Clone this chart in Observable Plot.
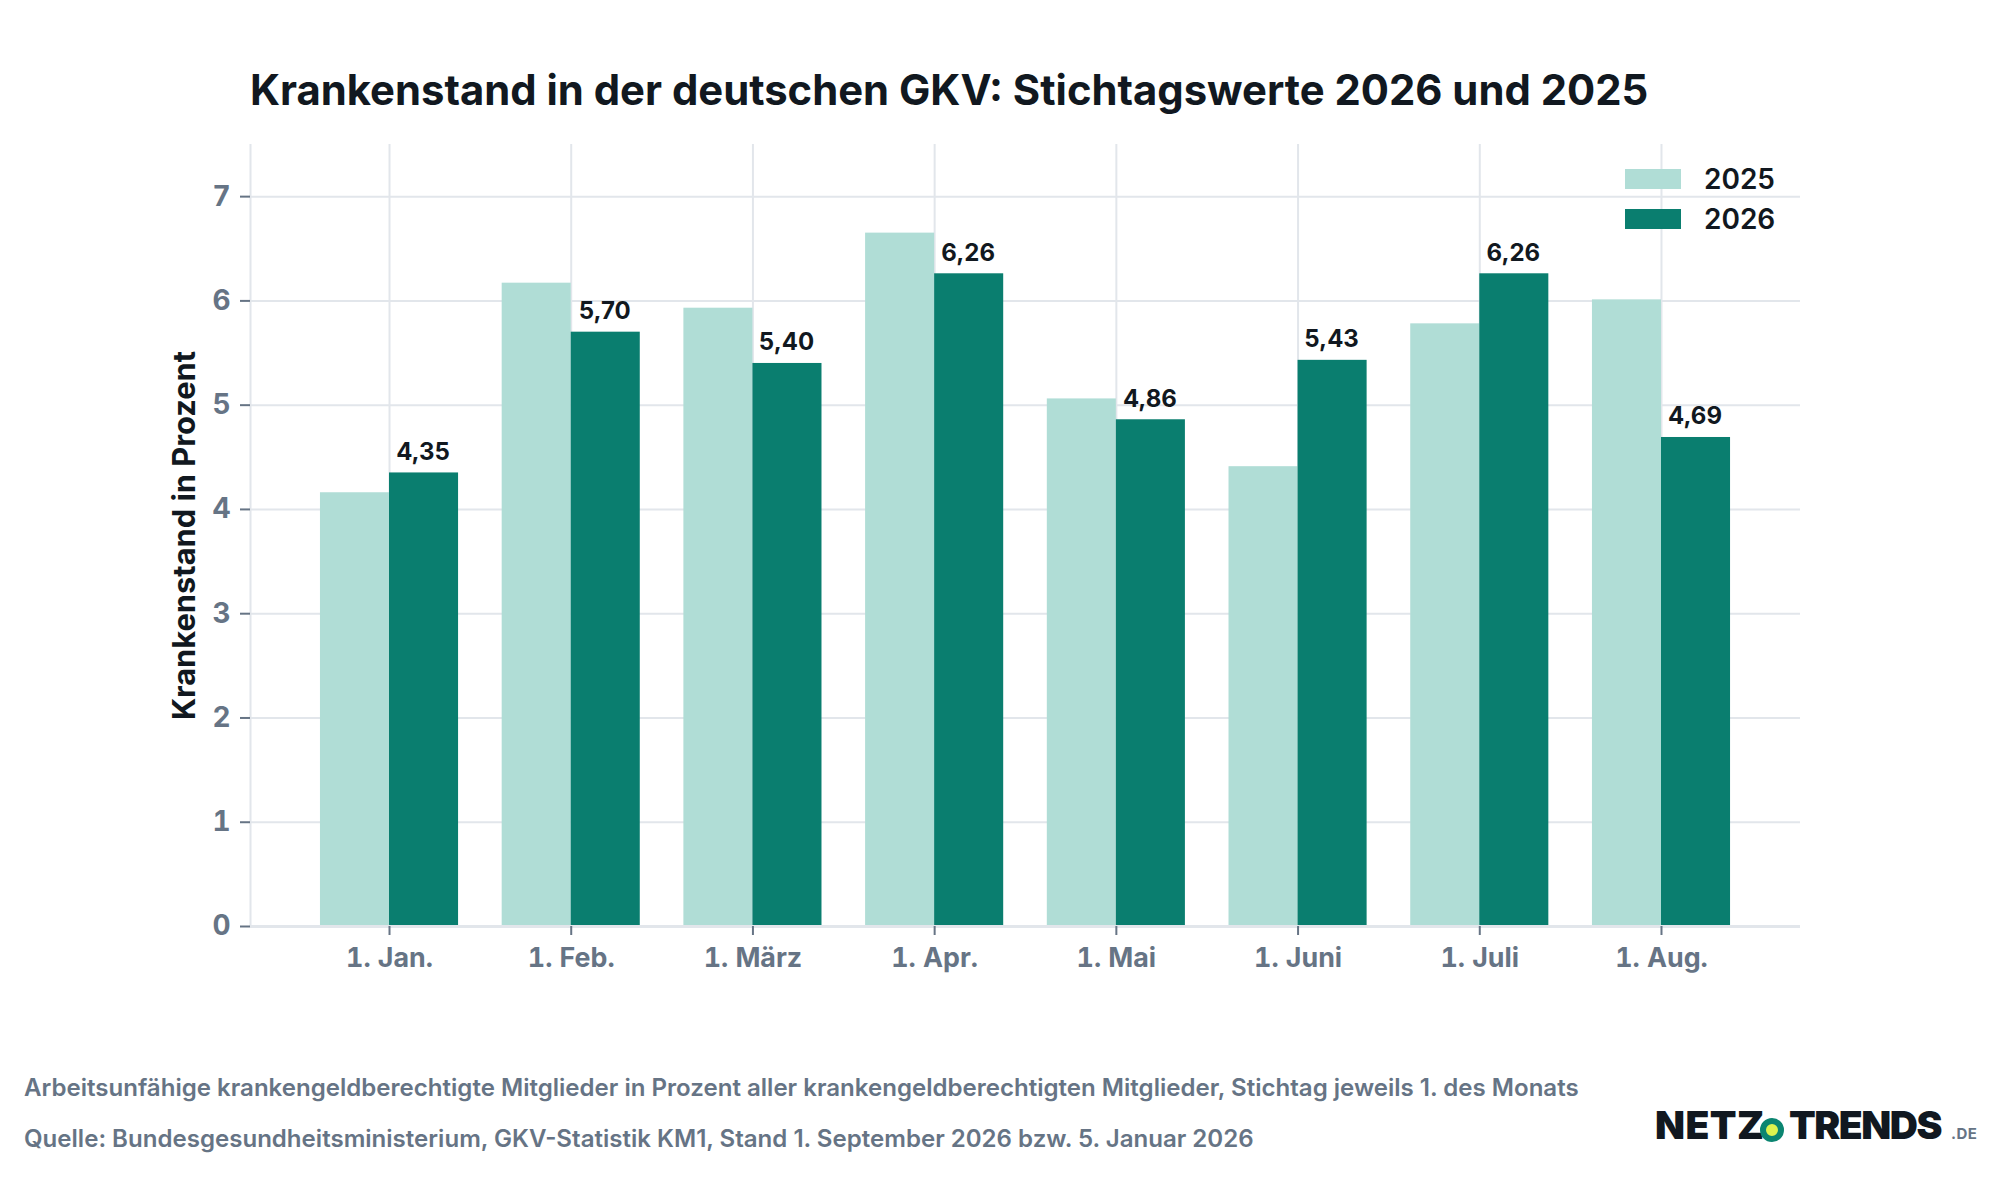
<!DOCTYPE html>
<html lang="de">
<head>
<meta charset="utf-8">
<script src="https://cdn.jsdelivr.net/npm/d3@7"></script>
<script src="https://cdn.jsdelivr.net/npm/@observablehq/plot@0.6"></script>
<style>
  html, body { margin: 0; background: #fff; }
  body { width: 2000px; height: 1200px; position: relative; overflow: hidden; font-family: Inter, sans-serif; }
  #chart { position: absolute; left: 0; top: 0; }
  h1 { position: absolute; left: 250px; top: 64px; margin: 0; font-size: 41.8px; line-height: 52px; font-weight: 700; color: #111820; white-space: nowrap; }
  .legend { position: absolute; left: 1625px; top: 159px; }
  .legend div { display: flex; align-items: center; height: 40px; font-size: 28px; font-weight: 600; color: #111820; }
  .legend i { display: inline-block; width: 56px; height: 20px; margin-right: 23px; }
  .foot { position: absolute; left: 24px; margin: 0; font-size: 24.07px; line-height: 30px; font-weight: 600; color: #667485; white-space: nowrap; }
  .logo { position: absolute; left: 1655px; top: 1100px; height: 50px; width: 340px; }
  .logo span { position: absolute; white-space: nowrap; }
  .logo .w { font-size: 39px; line-height: 48px; font-weight: 900; color: #111820; top: 1px; }
  .logo .c { left: 104.5px; top: 17.5px; width: 12px; height: 12px; border-radius: 50%; background: #dcf24f; border: 6.5px solid #0b8571; }
  .logo .d { left: 296px; top: 24px; font-size: 15px; line-height: 20px; font-weight: 700; color: #667485; letter-spacing: 0.5px; }
</style>
</head>
<body>
<h1>Krankenstand in der deutschen GKV: Stichtagswerte 2026 und 2025</h1>
<div id="chart"></div>
<div class="legend">
  <div><i style="background:#b0ddd6"></i>2025</div>
  <div><i style="background:#0a7e6f"></i>2026</div>
</div>
<p class="foot" style="top:1073px">Arbeitsunfähige krankengeldberechtigte Mitglieder in Prozent aller krankengeldberechtigten Mitglieder, Stichtag jeweils 1. des Monats</p>
<p class="foot" style="top:1124px">Quelle: Bundesgesundheitsministerium, GKV-Statistik KM1, Stand 1. September 2026 bzw. 5. Januar 2026</p>
<div class="logo">
  <span class="w" style="left:0;letter-spacing:0.4px">NETZ</span>
  <span class="c"></span>
  <span class="w" style="left:134px;letter-spacing:-1.5px">TRENDS</span>
  <span class="d">.DE</span>
</div>
<script>
const months = ["1. Jan.", "1. Feb.", "1. März", "1. Apr.", "1. Mai", "1. Juni", "1. Juli", "1. Aug."];
const values2025 = [4.16, 6.17, 5.93, 6.65, 5.06, 4.41, 5.78, 6.01];
const values2026 = [4.35, 5.70, 5.40, 6.26, 4.86, 5.43, 6.26, 4.69];
const yTicks = [0, 1, 2, 3, 4, 5, 6, 7];
const yLabel = "Krankenstand in Prozent";

const halfGroup = 0.38;
const indices = months.map((_, i) => i);
const deComma = v => v.toFixed(2).replace(".", ",");
const grey = "#667485", grid = "#e2e6eb", ink = "#111820";

const plot = Plot.plot({
  width: 2000,
  height: 1000,
  marginLeft: 250,
  marginRight: 200,
  marginTop: 144,
  marginBottom: 74,
  style: { fontFamily: "Inter, sans-serif", background: "transparent" },
  x: { domain: [-0.765, 7.765], label: null },
  y: { domain: [0, 7.5], label: null },
  marks: [
    Plot.ruleY(yTicks, { stroke: grid, strokeWidth: 2 }),
    Plot.ruleX(indices, { stroke: grid, strokeWidth: 2 }),
    Plot.ruleX([-0.765], { stroke: grid, strokeWidth: 2 }),
    Plot.rectY(indices, {
      x1: i => i - halfGroup, x2: i => i,
      y1: 0, y2: i => values2025[i], fill: "#b0ddd6"
    }),
    Plot.rectY(indices, {
      x1: i => i, x2: i => i + halfGroup,
      y1: 0, y2: i => values2026[i], fill: "#0a7e6f"
    }),
    Plot.ruleY([0], { stroke: grid, strokeWidth: 3 }),
    Plot.text(indices, {
      x: i => i + halfGroup / 2,
      y: i => values2026[i],
      text: i => deComma(values2026[i]),
      lineAnchor: "bottom",
      dx: -1,
      dy: -13,
      fill: ink,
      fontSize: 24,
      fontWeight: 700
    }),
    Plot.axisX({
      ticks: indices,
      tickFormat: i => months[i],
      tickSize: 9,
      tickPadding: 12,
      stroke: grey,
      strokeWidth: 2,
      fill: grey,
      fontSize: 26.8,
      fontWeight: 700,
      label: null
    }),
    Plot.axisY({
      ticks: yTicks,
      tickSize: 10,
      tickPadding: 10,
      stroke: grey,
      strokeWidth: 2,
      fill: grey,
      fontSize: 28,
      fontWeight: 700,
      label: null
    }),
    Plot.text([yLabel], {
      frameAnchor: "left",
      textAnchor: "middle",
      rotate: -90,
      dx: -65,
      fill: ink,
      fontSize: 30.8,
      fontWeight: 700
    })
  ]
});
document.getElementById("chart").append(plot);
</script>
</body>
</html>
